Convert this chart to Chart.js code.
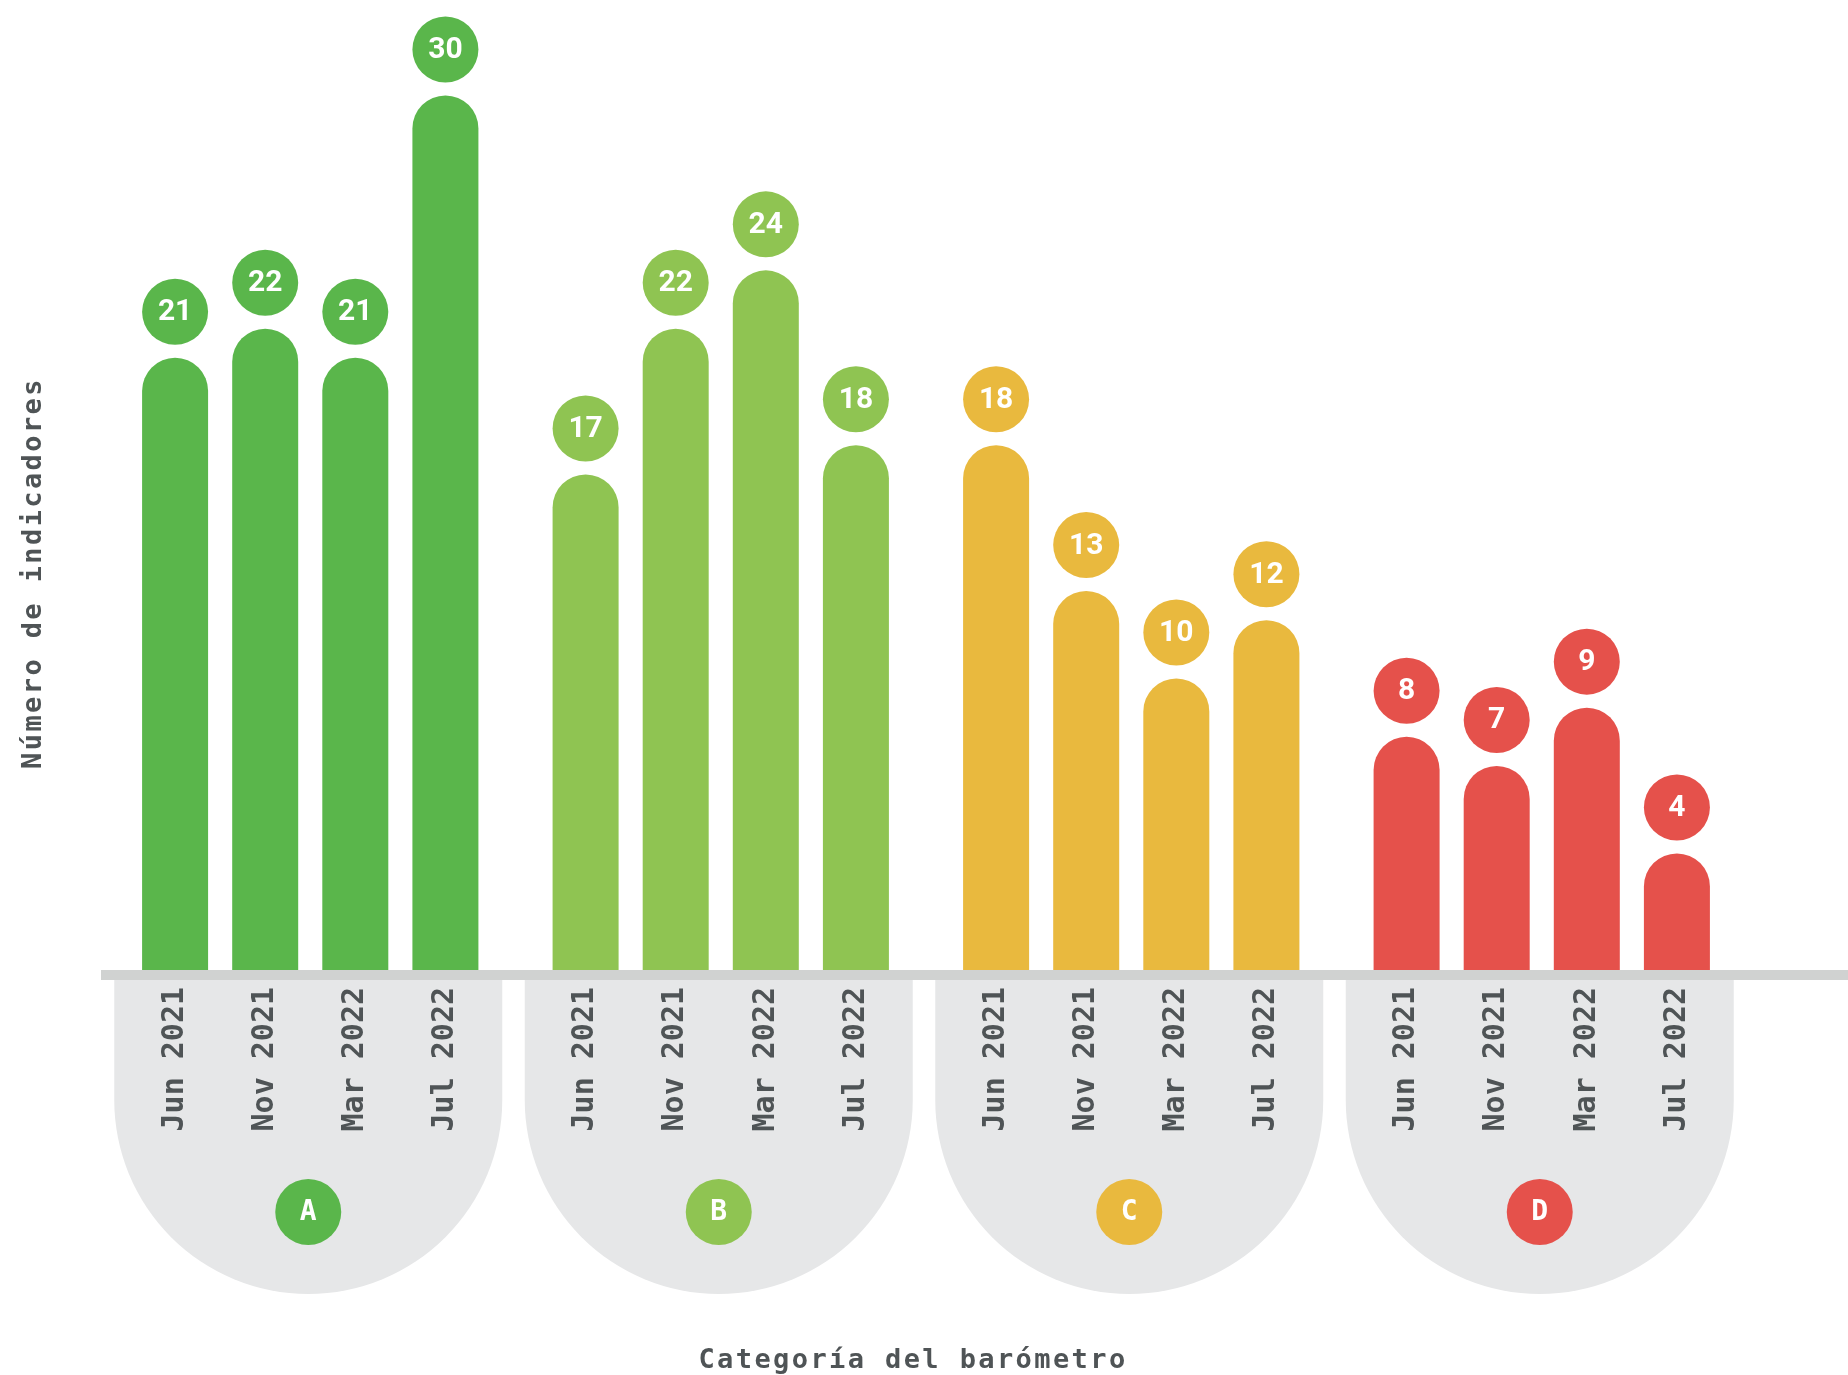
<!DOCTYPE html>
<html lang="es">
<head>
<meta charset="utf-8">
<title>Número de indicadores por categoría del barómetro</title>
<script src="https://cdn.jsdelivr.net/npm/chart.js@4.4.1/dist/chart.umd.min.js"></script>
<style>
  html, body { margin: 0; padding: 0; background: #ffffff; }
  #grafico { display: block; }
</style>
</head>
<body>
<canvas id="grafico" width="1848" height="1375"></canvas>
<script>
// datos
const categorias = ['A', 'B', 'C', 'D']
const periodos = ['Jun 2021', 'Nov 2021', 'Mar 2022', 'Jul 2022']
const jun2021 = [21, 17, 18, 8]
const nov2021 = [22, 22, 13, 7]
const mar2022 = [21, 24, 10, 9]
const jul2022 = [30, 18, 12, 4]
const tituloY = 'Número de indicadores'
const tituloX = 'Categoría del barómetro'

const colores = ['#5ab64b', '#8fc452', '#e9b93e', '#e5514b']
const grisTexto = '#4f5456'
const fuenteMono = '"DejaVu Sans Mono", "Liberation Mono", monospace'

const series = [jun2021, nov2021, mar2022, jul2022]

// fondos, etiquetas y títulos dibujados a mano
const decoracion = {
  id: 'decoracion',
  beforeDatasetsDraw(chart) {
    const ctx = chart.ctx
    const x = chart.scales.x
    const base = chart.chartArea.bottom
    ctx.save()
    ctx.fillStyle = '#e6e7e8'
    categorias.forEach((c, i) => {
      const cx = x.getPixelForValue(i) - 2
      const r = 194
      ctx.beginPath()
      ctx.moveTo(cx - r, base + 10)
      ctx.lineTo(cx + r, base + 10)
      ctx.lineTo(cx + r, base + 130)
      ctx.arc(cx, base + 130, r, 0, Math.PI)
      ctx.closePath()
      ctx.fill()
    })
    ctx.restore()
  },
  afterDatasetsDraw(chart) {
    const ctx = chart.ctx
    const area = chart.chartArea
    const x = chart.scales.x
    ctx.save()

    // línea del eje
    ctx.fillStyle = '#d0d2d1'
    ctx.fillRect(area.left - 4, area.bottom, chart.width - area.left + 4, 10)

    // valores en círculos y fechas giradas
    series.forEach((serie, d) => {
      const meta = chart.getDatasetMeta(d)
      meta.data.forEach((barra, i) => {
        const cy = barra.y - 46
        ctx.fillStyle = colores[i]
        ctx.beginPath()
        ctx.arc(barra.x, cy, 33, 0, Math.PI * 2)
        ctx.fill()
        ctx.fillStyle = '#ffffff'
        ctx.font = 'bold 30px Roboto, "DejaVu Sans", sans-serif'
        ctx.textAlign = 'center'
        ctx.textBaseline = 'middle'
        ctx.fillText(String(serie[i]), barra.x, cy + 1)

        ctx.save()
        ctx.translate(barra.x, area.bottom + 17)
        ctx.rotate(-Math.PI / 2)
        ctx.fillStyle = grisTexto
        ctx.font = 'bold 30px ' + fuenteMono
        ctx.textAlign = 'right'
        ctx.textBaseline = 'middle'
        ctx.fillText(periodos[d], 0, 0)
        ctx.restore()
      })
    })

    // letras de categoría
    categorias.forEach((c, i) => {
      const cx = x.getPixelForValue(i) - 2
      const cy = area.bottom + 242
      ctx.fillStyle = colores[i]
      ctx.beginPath()
      ctx.arc(cx, cy, 33, 0, Math.PI * 2)
      ctx.fill()
      ctx.fillStyle = '#ffffff'
      ctx.font = 'bold 28px ' + fuenteMono
      ctx.textAlign = 'center'
      ctx.textBaseline = 'middle'
      ctx.fillText(c, cx, cy + 1)
    })

    // títulos de ejes
    ctx.fillStyle = grisTexto
    ctx.font = 'bold 27px ' + fuenteMono
    ctx.letterSpacing = '2.4px'
    ctx.textAlign = 'center'
    ctx.textBaseline = 'middle'
    ctx.save()
    ctx.translate(34, 573)
    ctx.rotate(-Math.PI / 2)
    ctx.fillText(tituloY, 0, 0)
    ctx.restore()
    ctx.textBaseline = 'alphabetic'
    ctx.fillText(tituloX, 913, 1368)

    ctx.restore()
  }
}

const ctx = document.getElementById('grafico')

new Chart(ctx, {
  type: 'bar',
  data: {
    labels: categorias,
    datasets: series.map((serie, d) => ({
      label: periodos[d],
      data: serie,
      backgroundColor: colores,
      borderWidth: 0,
      borderSkipped: 'bottom',
      borderRadius: { topLeft: 33, topRight: 33, bottomLeft: 0, bottomRight: 0 },
      categoryPercentage: 0.878,
      barPercentage: 0.7325
    }))
  },
  options: {
    responsive: false,
    animation: false,
    devicePixelRatio: 1,
    layout: {
      padding: { left: 105, right: 101, top: 8, bottom: 405 }
    },
    scales: {
      x: { display: false },
      y: { display: false, min: 0, max: 33 }
    },
    plugins: {
      legend: { display: false },
      tooltip: { enabled: false }
    }
  },
  plugins: [decoracion]
})
</script>
</body>
</html>
